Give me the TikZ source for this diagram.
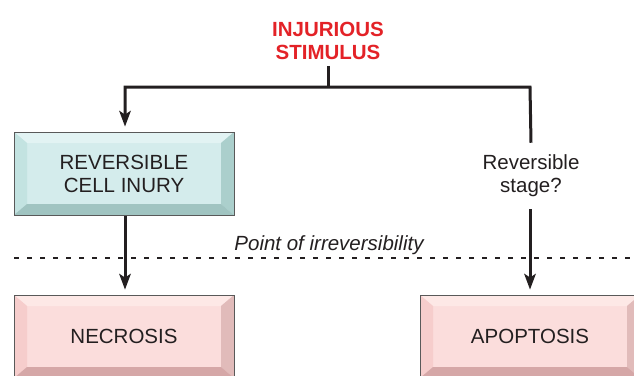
\documentclass[tikz,border=0pt]{standalone}
\usepackage{fontspec}
\setmainfont{Liberation Sans}
\usetikzlibrary{arrows.meta,calc}
\definecolor{ink}{HTML}{231F20}
\definecolor{stimred}{HTML}{E32227}
\definecolor{cface}{HTML}{D4ECEC}
\definecolor{ctop}{HTML}{E2F3F3}
\definecolor{cleft}{HTML}{C3E3E1}
\definecolor{cright}{HTML}{ABCFCC}
\definecolor{cbot}{HTML}{A0C4C1}
\definecolor{pface}{HTML}{FBDDDC}
\definecolor{ptop}{HTML}{FDE8E6}
\definecolor{pleft}{HTML}{F6CDCC}
\definecolor{pright}{HTML}{E1BBBA}
\definecolor{pbot}{HTML}{D5A7A7}
\tikzset{
  bevel/.style n args={4}{path picture={
    \coordinate (pnw) at (path picture bounding box.north west);
    \coordinate (pne) at (path picture bounding box.north east);
    \coordinate (psw) at (path picture bounding box.south west);
    \coordinate (pse) at (path picture bounding box.south east);
    \fill[#1] (pnw) -- (pne) -- ([shift={(-13pt,-11pt)}]pne) -- ([shift={(13pt,-11pt)}]pnw) -- cycle;
    \fill[#2] (pnw) -- ([shift={(13pt,-11pt)}]pnw) -- ([shift={(13pt,11pt)}]psw) -- (psw) -- cycle;
    \fill[#3] (pne) -- ([shift={(-13pt,-11pt)}]pne) -- ([shift={(-13pt,11pt)}]pse) -- (pse) -- cycle;
    \fill[#4] (psw) -- ([shift={(13pt,11pt)}]psw) -- ([shift={(-13pt,11pt)}]pse) -- (pse) -- cycle;
  }},
  boxbase/.style={draw=black!65, line width=1pt, minimum width=220pt, minimum height=83pt,
    inner sep=0pt, align=center, text=ink, font=\fontsize{20.5}{23}\selectfont},
  cyanbox/.style={boxbase, fill=cface, bevel={ctop}{cleft}{cright}{cbot}},
  pinkbox/.style={boxbase, fill=pface, bevel={ptop}{pleft}{pright}{pbot}},
  conn/.style={draw=ink, line width=3pt},
  tip/.style={fill=ink, draw=none},
  lbl/.style={text=ink, align=center, font=\fontsize{20.5}{23}\selectfont},
}
\begin{document}
\begin{tikzpicture}[x=1pt,y=-1pt]
\useasboundingbox (0,0) rectangle (634,375);
\clip (0,0) rectangle (634,375);
% title
\node[font=\fontsize{20.5}{23}\selectfont\bfseries, text=stimred, align=center,
      inner xsep=0pt, inner ysep=6pt] (stim) at (328,41) {INJURIOUS\\STIMULUS};
% boxes
\node[cyanbox] (rev) at (124,173.5) {REVERSIBLE\\CELL INURY};
\node[pinkbox] (nec) at (124,336.5) {NECROSIS};
\node[pinkbox] (apo) at (530,336.5) {APOPTOSIS};
% right label
\node[lbl, inner sep=0pt, inner ysep=12pt] (stage) at (531,176) {Reversible\\stage?};
% coordinates
\coordinate (j) at (stim.south |- 0,87);
\coordinate (cl) at (125,87);
\coordinate (cr) at (530,87);
\coordinate (t1) at ([yshift=5pt]cl |- rev.north);
\coordinate (t2) at ([yshift=5pt]cl |- nec.north);
\coordinate (t3) at ([yshift=5pt]cr |- apo.north);
% connectors
\draw[conn] (stim.south) -- (j);
\draw[conn] ([yshift=8pt]t1) -- (cl) -- (cr) -- (stage.north);
\draw[conn] (cl |- rev.south) -- ([yshift=8pt]t2);
\draw[conn] (cr |- stage.south) -- ([yshift=8pt]t3);
% arrow heads
\foreach \t in {t1,t2,t3}
  \fill[tip] (\t) -- ++(-6,-16) -- ++(6,4) -- ++(6,-4) -- cycle;
% dashed line
\coordinate (dl) at (14,258);
\coordinate (dr) at (634,258);
\draw[draw=ink, line width=1.6pt, dash pattern=on 5pt off 8pt] (dl) -- (dr);
\node[lbl, font=\fontsize{20.5}{23}\selectfont\itshape, anchor=base, inner sep=0pt] (pir) at (329,250) {Point of irreversibility};
\end{tikzpicture}
\end{document}
